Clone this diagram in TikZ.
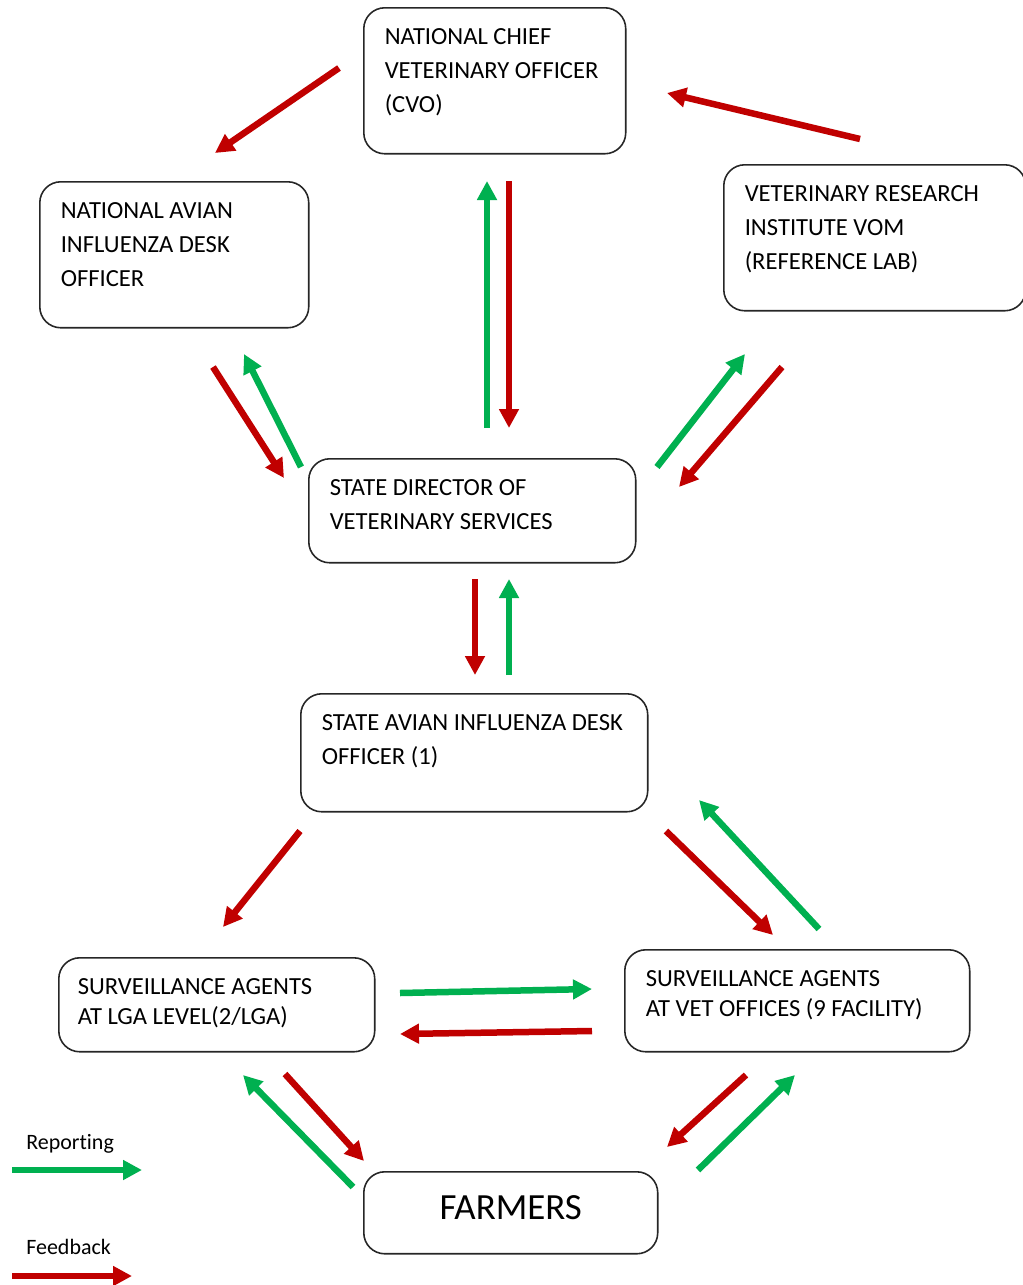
\documentclass[tikz,border=0pt]{standalone}
\usepackage{fontspec}
\setmainfont{Carlito}[Ligatures=NoCommon]
\usepackage{tikz}
\usetikzlibrary{arrows.meta,positioning}
\usepackage{xcolor}
\definecolor{rpgreen}{RGB}{0,176,80}
\definecolor{fbred}{RGB}{192,0,0}
\newcommand{\unittext}[3]{\parbox[c][#2][t]{#1}{\raggedright #3}}
\tikzstyle{unit} = [rectangle, rounded corners=0.42cm, draw=black!85, line width=0.9pt, anchor=north west, inner xsep=0.42cm, inner ysep=0.42cm, font=\fontsize{14}{19.3}\selectfont]
\tikzstyle{lowunit} = [unit, font=\fontsize{14}{16.7}\selectfont]
\tikzstyle{report} = [line width=0.13cm, -{Triangle[length=0.38cm,width=0.38cm]}, color=rpgreen]
\tikzstyle{feedback} = [line width=0.13cm, -{Triangle[length=0.38cm,width=0.38cm]}, color=fbred]

\begin{document}
\begin{tikzpicture}[x=0.02cm, y=-0.02cm]
\useasboundingbox (0,0) rectangle (1022,1285);

% National level
\node[unit] (cvo) at (363,7) {\unittext{4.40cm}{2.08cm}{NATIONAL CHIEF\\VETERINARY OFFICER\\(CVO)}};
\node[unit] (naidesk) at (39,181) {\unittext{4.54cm}{2.08cm}{NATIONAL AVIAN\\INFLUENZA DESK\\OFFICER}};
\node[unit] (vri) at (723,164) {\unittext{5.20cm}{2.08cm}{VETERINARY RESEARCH\\INSTITUTE VOM\\(REFERENCE LAB)}};

% State level
\node[unit] (sdvs) at (308,458) {\unittext{5.70cm}{1.24cm}{STATE DIRECTOR OF\\VETERINARY SERVICES}};
\node[unit] (saidesk) at (300,693) {\unittext{6.10cm}{1.52cm}{\mbox{STATE AVIAN INFLUENZA DESK}\\OFFICER (1)}};

% Field level
\node[lowunit, inner xsep=0.38cm] (lga) at (58,957) {\unittext{5.56cm}{1.04cm}{SURVEILLANCE AGENTS\\AT LGA LEVEL(2/LGA)}};
\node[lowunit] (vetoff) at (624,949) {\unittext{6.06cm}{1.20cm}{SURVEILLANCE AGENTS\\AT VET OFFICES (9 FACILITY)}};
\node[unit, inner sep=0pt, minimum width=5.88cm, minimum height=1.64cm, text depth=0.2cm, font=\fontsize{21}{25}\selectfont] (farmers) at (363,1171) {FARMERS};

% Legend
\node[anchor=base west, inner sep=0pt, font=\fontsize{12.5}{15}\selectfont] (replabel) at (26,1149) {Reporting};
\node[anchor=base west, inner sep=0pt, font=\fontsize{12.5}{15}\selectfont] (fblabel) at (26,1254) {Feedback};

% Arrow end points
\coordinate (cvonai-a) at (339,68);   \coordinate (cvonai-b) at (215,153);
\coordinate (vricvo-a) at (860,139);  \coordinate (vricvo-b) at (667,93);
\coordinate (sdcvo-a) at (487,428);   \coordinate (sdcvo-b) at (487,181);
\coordinate (cvosd-a) at (509,181);   \coordinate (cvosd-b) at (509,428);
\coordinate (naisd-a) at (213,367);   \coordinate (naisd-b) at (284,478);
\coordinate (sdnai-a) at (301,467);   \coordinate (sdnai-b) at (244,354);
\coordinate (sdvri-a) at (657,467);   \coordinate (sdvri-b) at (745,354);
\coordinate (vrisd-a) at (782,367);   \coordinate (vrisd-b) at (679,487);
\coordinate (sdsai-a) at (475,579);   \coordinate (sdsai-b) at (475,675);
\coordinate (saisd-a) at (509,675);   \coordinate (saisd-b) at (509,579);
\coordinate (sailga-a) at (300,831);  \coordinate (sailga-b) at (223,927);
\coordinate (saivet-a) at (666,831);  \coordinate (saivet-b) at (773,935);
\coordinate (vetsai-a) at (819,929);  \coordinate (vetsai-b) at (699,800);
\coordinate (lgavet-a) at (400,993);  \coordinate (lgavet-b) at (592,989);
\coordinate (vetlga-a) at (592,1031); \coordinate (vetlga-b) at (400,1034);
\coordinate (farmlga-a) at (353,1187);\coordinate (farmlga-b) at (243,1075);
\coordinate (lgafarm-a) at (285,1074);\coordinate (lgafarm-b) at (364,1161);
\coordinate (vetfarm-a) at (746,1075);\coordinate (vetfarm-b) at (667,1147);
\coordinate (farmvet-a) at (698,1170);\coordinate (farmvet-b) at (795,1075);
\coordinate (repkey-a) at (12,1170);  \coordinate (repkey-b) at (142,1170);
\coordinate (fbkey-a) at (12,1276);   \coordinate (fbkey-b) at (132,1276);

% Feedback arrows
\draw[feedback] (cvonai-a) -- (cvonai-b);
\draw[feedback] (vricvo-a) -- (vricvo-b);
\draw[feedback] (cvosd-a) -- (cvosd-b);
\draw[feedback] (naisd-a) -- (naisd-b);
\draw[feedback] (vrisd-a) -- (vrisd-b);
\draw[feedback] (sdsai-a) -- (sdsai-b);
\draw[feedback] (sailga-a) -- (sailga-b);
\draw[feedback] (saivet-a) -- (saivet-b);
\draw[feedback] (vetlga-a) -- (vetlga-b);
\draw[feedback] (lgafarm-a) -- (lgafarm-b);
\draw[feedback] (vetfarm-a) -- (vetfarm-b);
\draw[feedback] (fbkey-a) -- (fbkey-b);

% Reporting arrows
\draw[report] (sdcvo-a) -- (sdcvo-b);
\draw[report] (sdnai-a) -- (sdnai-b);
\draw[report] (sdvri-a) -- (sdvri-b);
\draw[report] (saisd-a) -- (saisd-b);
\draw[report] (vetsai-a) -- (vetsai-b);
\draw[report] (lgavet-a) -- (lgavet-b);
\draw[report] (farmlga-a) -- (farmlga-b);
\draw[report] (farmvet-a) -- (farmvet-b);
\draw[report] (repkey-a) -- (repkey-b);
\end{tikzpicture}
\end{document}
